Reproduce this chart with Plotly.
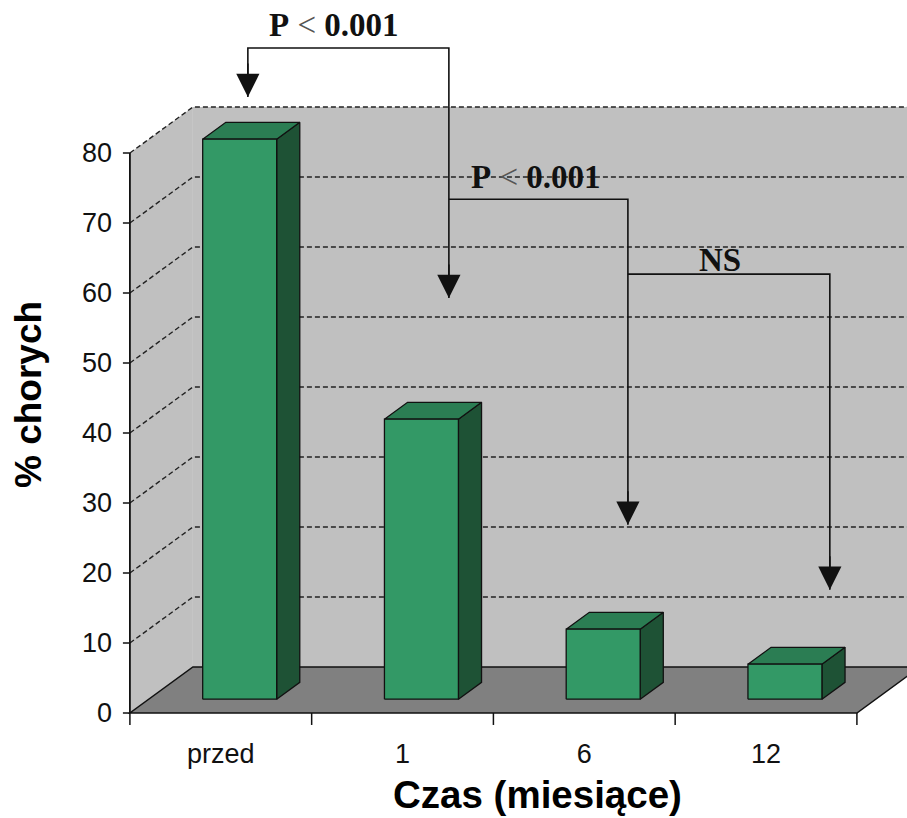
import plotly.graph_objects as go

# ---- data -------------------------------------------------------------
categories = ["przed", "1", "6", "12"]
values = [80, 40, 10, 5]            # % chorych
y_ticks = [0, 10, 20, 30, 40, 50, 60, 70, 80]
y_max = 80

# ---- oblique 3-D projection --------------------------------------------
DEPTH_X = 0.3466   # full floor depth, in category units
DEPTH_Y = 6.57     # full floor depth, in value units
BAR_FRONT = 0.30   # depth fraction of the bar front face
BAR_BACK = 0.667   # depth fraction of the bar back face
HALF_W = 0.2035    # half bar width (category units)

X_LO, X_HI = -0.5, len(categories) - 0.5

WALL = "#C0C0C0"
FLOOR = "#808080"
EDGE = "#111111"
FRONT = "#339966"
TOP = "#2B7D53"
SIDE = "#1E5235"

SANS = "Liberation Sans, Arial, sans-serif"
SERIF = "Liberation Serif, Times New Roman, serif"


def proj(x, y, d):
    return x + d * DEPTH_X, y + d * DEPTH_Y


def path(points, close=False):
    s = "M " + " L ".join(f"{x:.4f},{y:.4f}" for x, y in points)
    return s + (" Z" if close else "")


shapes = []

# side wall and back wall
shapes.append(dict(type="path", layer="below", fillcolor=WALL, line=dict(width=0),
                   path=path([proj(X_LO, 0, 0), proj(X_LO, 0, 1),
                              proj(X_LO, y_max, 1), proj(X_LO, y_max, 0)], True)))
shapes.append(dict(type="path", layer="below", fillcolor=WALL, line=dict(width=0),
                   path=path([proj(X_LO, 0, 1), proj(X_HI, 0, 1),
                              proj(X_HI, y_max, 1), proj(X_LO, y_max, 1)], True)))

# dashed gridlines running along side wall and back wall
for t in y_ticks[1:]:
    shapes.append(dict(type="path", layer="below",
                       line=dict(color="#222222", width=1.4, dash="5px,3px"),
                       path=path([proj(X_LO, t, 0), proj(X_LO, t, 1), proj(X_HI, t, 1)])))

# floor
shapes.append(dict(type="path", layer="below", fillcolor=FLOOR,
                   line=dict(color=EDGE, width=1.5),
                   path=path([proj(X_LO, 0, 0), proj(X_HI, 0, 0),
                              proj(X_HI, 0, 1), proj(X_LO, 0, 1)], True)))

# value axis line and ticks
shapes.append(dict(type="line", layer="above", x0=X_LO, x1=X_LO, y0=0, y1=y_max,
                   line=dict(color=EDGE, width=1.8)))
for t in y_ticks:
    shapes.append(dict(type="line", layer="above", x0=X_LO - 0.0385, x1=X_LO,
                       y0=t, y1=t, line=dict(color=EDGE, width=1.5)))
# category boundary ticks
for k in range(len(categories) + 1):
    shapes.append(dict(type="line", layer="above", x0=X_LO + k, x1=X_LO + k,
                       y0=0, y1=-1.71, line=dict(color=EDGE, width=1.5)))

# ---- bars ---------------------------------------------------------------
fig = go.Figure()
for i, v in enumerate(values):
    xl, xr = i - HALF_W, i + HALF_W
    faces = [
        (SIDE, [proj(xr, 0, BAR_FRONT), proj(xr, 0, BAR_BACK),
                proj(xr, v, BAR_BACK), proj(xr, v, BAR_FRONT)]),
        (TOP, [proj(xl, v, BAR_FRONT), proj(xr, v, BAR_FRONT),
               proj(xr, v, BAR_BACK), proj(xl, v, BAR_BACK)]),
        (FRONT, [proj(xl, 0, BAR_FRONT), proj(xr, 0, BAR_FRONT),
                 proj(xr, v, BAR_FRONT), proj(xl, v, BAR_FRONT)]),
    ]
    for color, pts in faces:
        pts = pts + [pts[0]]
        fig.add_trace(go.Scatter(
            x=[p[0] for p in pts], y=[p[1] for p in pts],
            mode="lines", fill="toself", fillcolor=color,
            line=dict(color=EDGE, width=1.3),
            hoverinfo="skip", showlegend=False))

# ---- significance brackets -----------------------------------------------
brackets = [
    # polyline points, arrow tips
    ([(0.149, 88.0), (0.149, 95.0), (1.255, 95.0), (1.255, 59.3)],
     [(0.149, 88.0), (1.255, 59.3)]),
    ([(1.255, 73.4), (2.24, 73.4), (2.24, 26.9)], [(2.24, 26.9)]),
    ([(2.24, 62.7), (3.351, 62.7), (3.351, 17.6)], [(3.351, 17.6)]),
]
annotations = []
for pts, tips in brackets:
    shapes.append(dict(type="path", layer="above", line=dict(color=EDGE, width=1.6),
                       path=path(pts)))
    for tx, ty in tips:
        annotations.append(dict(x=tx, y=ty, ax=tx, ay=ty + 5, xref="x", yref="y",
                                axref="x", ayref="y", text="", showarrow=True,
                                arrowhead=2, arrowsize=2.9, arrowwidth=1.6,
                                arrowcolor=EDGE, standoff=0))

p_label = "<b>P</b> <span style='color:#555'>&lt;</span> <b>0.001</b>"
for txt, x, y in [(p_label, 0.622, 98.3), (p_label, 1.734, 76.6), ("<b>NS</b>", 2.746, 64.7)]:
    annotations.append(dict(x=x, y=y, xref="x", yref="y", text=txt, showarrow=False,
                            xanchor="center", yanchor="middle",
                            font=dict(family=SERIF, size=33, color="#111")))

# axis titles (paper coordinates, outside the plotting area)
annotations.append(dict(x=-0.1155, y=0.458, xref="paper", yref="paper",
                        xanchor="center", yanchor="middle",
                        text="<b>% chorych</b>", textangle=-90, showarrow=False,
                        font=dict(family=SANS, size=37, color="#000")))
annotations.append(dict(x=0.5317, y=-0.0935, xref="paper", yref="paper",
                        xanchor="center", yanchor="middle",
                        text="<b>Czas (miesiące)</b>", showarrow=False,
                        font=dict(family=SANS, size=38.5, color="#000")))

fig.update_layout(
    width=907, height=818,
    margin=dict(l=119, r=0, t=0, b=91),
    paper_bgcolor="white", plot_bgcolor="white",
    shapes=shapes, annotations=annotations,
    xaxis=dict(range=[-0.56, 3.7756], tickvals=list(range(len(categories))),
               ticktext=categories, ticks="", showgrid=False, zeroline=False,
               showline=False, ticklabelstandoff=8,
               tickfont=dict(family=SANS, size=27, color="#111")),
    yaxis=dict(range=[-2, 101.857], tickvals=y_ticks, ticks="", showgrid=False,
               zeroline=False, showline=False, ticklabelstandoff=6,
               tickfont=dict(family=SANS, size=27, color="#111")),
)

fig.write_html("out.html")
